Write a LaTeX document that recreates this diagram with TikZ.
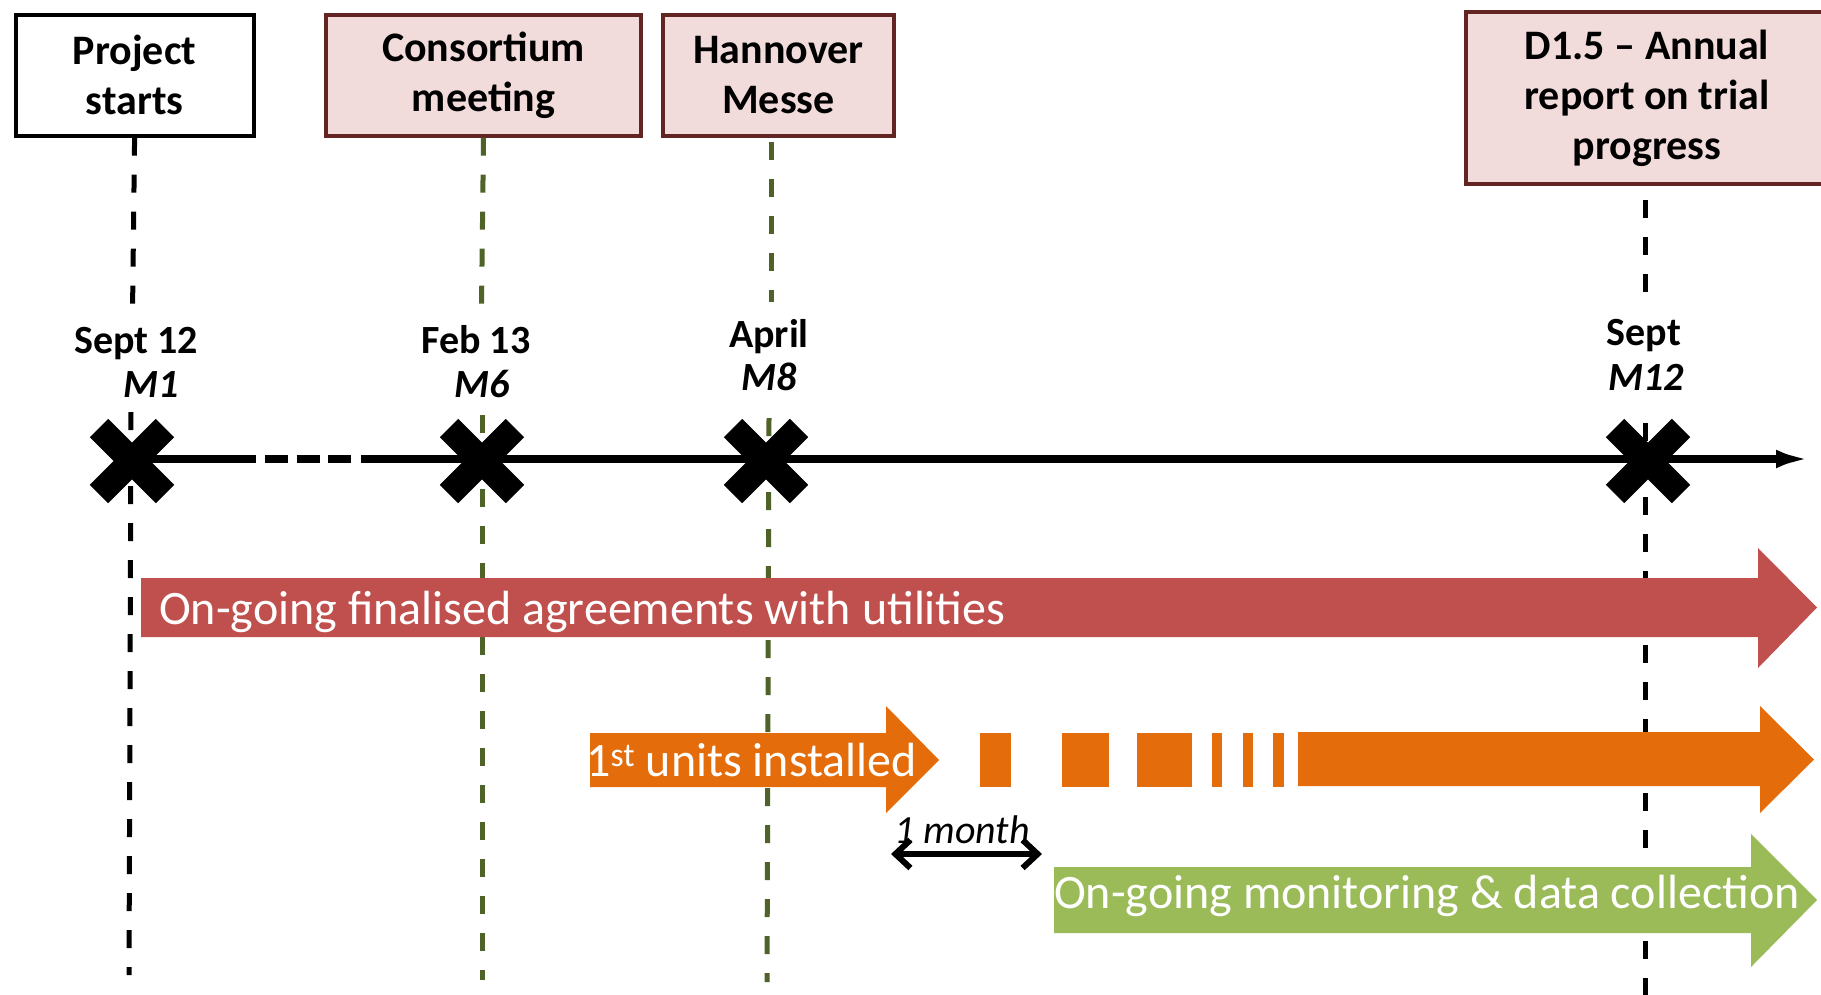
\documentclass[tikz,border=0pt]{standalone}
\usepackage{fontspec}
\setmainfont{Carlito}
\usetikzlibrary{arrows.meta,shapes.misc}
\definecolor{arrred}{HTML}{C0504D}
\definecolor{arrorange}{HTML}{E46C0A}
\definecolor{arrgreen}{HTML}{9BBB59}
\definecolor{boxfill}{HTML}{F2DCDB}
\definecolor{boxline}{HTML}{632523}
\definecolor{linegreen}{HTML}{4F6228}
\begin{document}
\begin{tikzpicture}[x=1pt,y=-1pt,
  evbox/.style={draw=boxline, fill=boxfill, line width=4pt, align=center,
    font=\bfseries\fontsize{42pt}{50pt}\selectfont, inner sep=0pt, anchor=north west},
  datelab/.style={font=\bfseries\fontsize{40pt}{48pt}\selectfont, inner sep=0pt, anchor=base},
  mlab/.style={font=\bfseries\itshape\fontsize{40pt}{48pt}\selectfont, inner sep=0pt, anchor=base},
  vdash/.style={line width=5pt, dash pattern=on 18pt off 19pt},
  vblack/.style={vdash, draw=black},
  vgreen/.style={vdash, draw=linegreen},
  axisline/.style={line width=8pt, draw=black},
  xmark/.style={cross out, draw=black, line width=26pt, minimum size=40pt, inner sep=0pt},
  arrtext/.style={text=white, font=\fontsize{48pt}{57pt}\selectfont, inner sep=0pt, anchor=base west},
  monthtext/.style={font=\itshape\fontsize{40pt}{48pt}\selectfont, inner sep=0pt, anchor=base},
  spanarrow/.style={line width=6pt, draw=black,
    {Straight Barb[length=15pt,width=28pt,line width=6pt]}-{Straight Barb[length=15pt,width=28pt,line width=6pt]}}
]
\useasboundingbox (0,0) rectangle (1821,994);
\clip (0,0) rectangle (1821,994);
\fill[white] (0,0) rectangle (1821,994);

% event boxes
\node[evbox, draw=black, fill=white, minimum width=238pt, minimum height=121pt] (pbox) at (13.6,12.7) {Project\\starts};
\node[evbox, minimum width=315pt, minimum height=121pt] (cbox) at (324,12.7) {Consortium\\meeting};
\node[evbox, minimum width=231pt, minimum height=121pt] (hbox) at (661,12.7) {Hannover\\Messe};
\node[evbox, minimum width=362pt, minimum height=172pt] (dbox) at (1464,10) {D1.5 – Annual\\report on trial\\progress};

% date labels
\node[datelab] (l1) at (136,353) {Sept 12};
\node[mlab] (m1) at (151,397) {M1};
\node[datelab] (l2) at (476,353) {Feb 13};
\node[mlab] (m2) at (482,397) {M6};
\node[datelab] (l3) at (769,347) {April};
\node[mlab] (m3) at (769,390) {M8};
\node[datelab] (l4) at (1644,345) {Sept};
\node[mlab] (m4) at (1646,390) {M12};

% vertical dashed lines
\coordinate (pa) at (132.6,305);
\coordinate (pb) at (131,412);
\coordinate (pc) at (129,975);
\draw[vblack] (pbox.south) -- (pa);
\draw[vblack] (pb) -- (pc);

\coordinate (ca) at (481.5,307);
\coordinate (cb) at (482,415);
\coordinate (cc) at (482,980);
\draw[vgreen] (cbox.south) -- (ca);
\draw[vgreen] (cb) -- (cc);

\coordinate (ha0) at (771,142);
\coordinate (ha1) at (771,302);
\coordinate (hb) at (769,418);
\coordinate (hc) at (767,982);
\draw[vgreen] (ha0) -- (ha1);
\draw[vgreen] (hb) -- (hc);

\coordinate (da0) at (1645,200);
\coordinate (da1) at (1645,295);
\coordinate (db) at (1645,423);
\coordinate (dc) at (1645,1000);
\draw[vblack] (da0) -- (da1);
\draw[vblack] (db) -- (dc);

% time axis
\coordinate (ax0) at (132,459);
\coordinate (ax1) at (256,459);
\coordinate (ax2) at (265,459);
\coordinate (ax3) at (352,459);
\coordinate (ax4) at (361,459);
\coordinate (axend) at (1813,459);
\draw[axisline] (ax0) -- (ax1);
\draw[axisline, dash pattern=on 23pt off 8.5pt] (ax2) -- (ax3);
\draw[axisline, -{Latex[length=37pt,width=18pt]}] (ax4) -- (axend);

% milestone crosses
\node[xmark] (x1) at (132,461) {};
\node[xmark] (x2) at (482,461) {};
\node[xmark] (x3) at (766,461) {};
\node[xmark] (x4) at (1648,461) {};

% red arrow
\fill[arrred] (141,578) -- (1758,578) -- (1758,548) -- (1817,607.5) -- (1758,668) -- (1758,637) -- (141,637) -- cycle;
\node[arrtext] (tred) at (159,624) {On-going finalised agreements with utilities};

% orange arrows
\fill[arrorange] (590,733) -- (886,733) -- (886,706) -- (939,760) -- (886,813) -- (886,787) -- (590,787) -- cycle;
\fill[arrorange] (980,733) rectangle (1011,787);
\fill[arrorange] (1062,733) rectangle (1109,787);
\fill[arrorange] (1137,733) rectangle (1192,787);
\fill[arrorange] (1212,733) rectangle (1222,787);
\fill[arrorange] (1243,733) rectangle (1253,787);
\fill[arrorange] (1273,733) rectangle (1284,787);
\fill[arrorange] (1298,732) -- (1760,732) -- (1760,706) -- (1814,759.5) -- (1760,813) -- (1760,786) -- (1298,786) -- cycle;
\node[arrtext] (torange) at (586,776) {1\textsuperscript{st} units installed};

% green arrow
\fill[arrgreen] (1054,867) -- (1751,867) -- (1751,834) -- (1817,900) -- (1751,967) -- (1751,933) -- (1054,933) -- cycle;
\node[arrtext] (tgreen) at (1054,908) {On-going monitoring \& data collection};

% one month span
\coordinate (mo0) at (891,854);
\coordinate (mo1) at (1042,854);
\draw[spanarrow] (mo0) -- (mo1);
\node[monthtext] (month) at (962,843) {1 month};
\end{tikzpicture}
\end{document}
